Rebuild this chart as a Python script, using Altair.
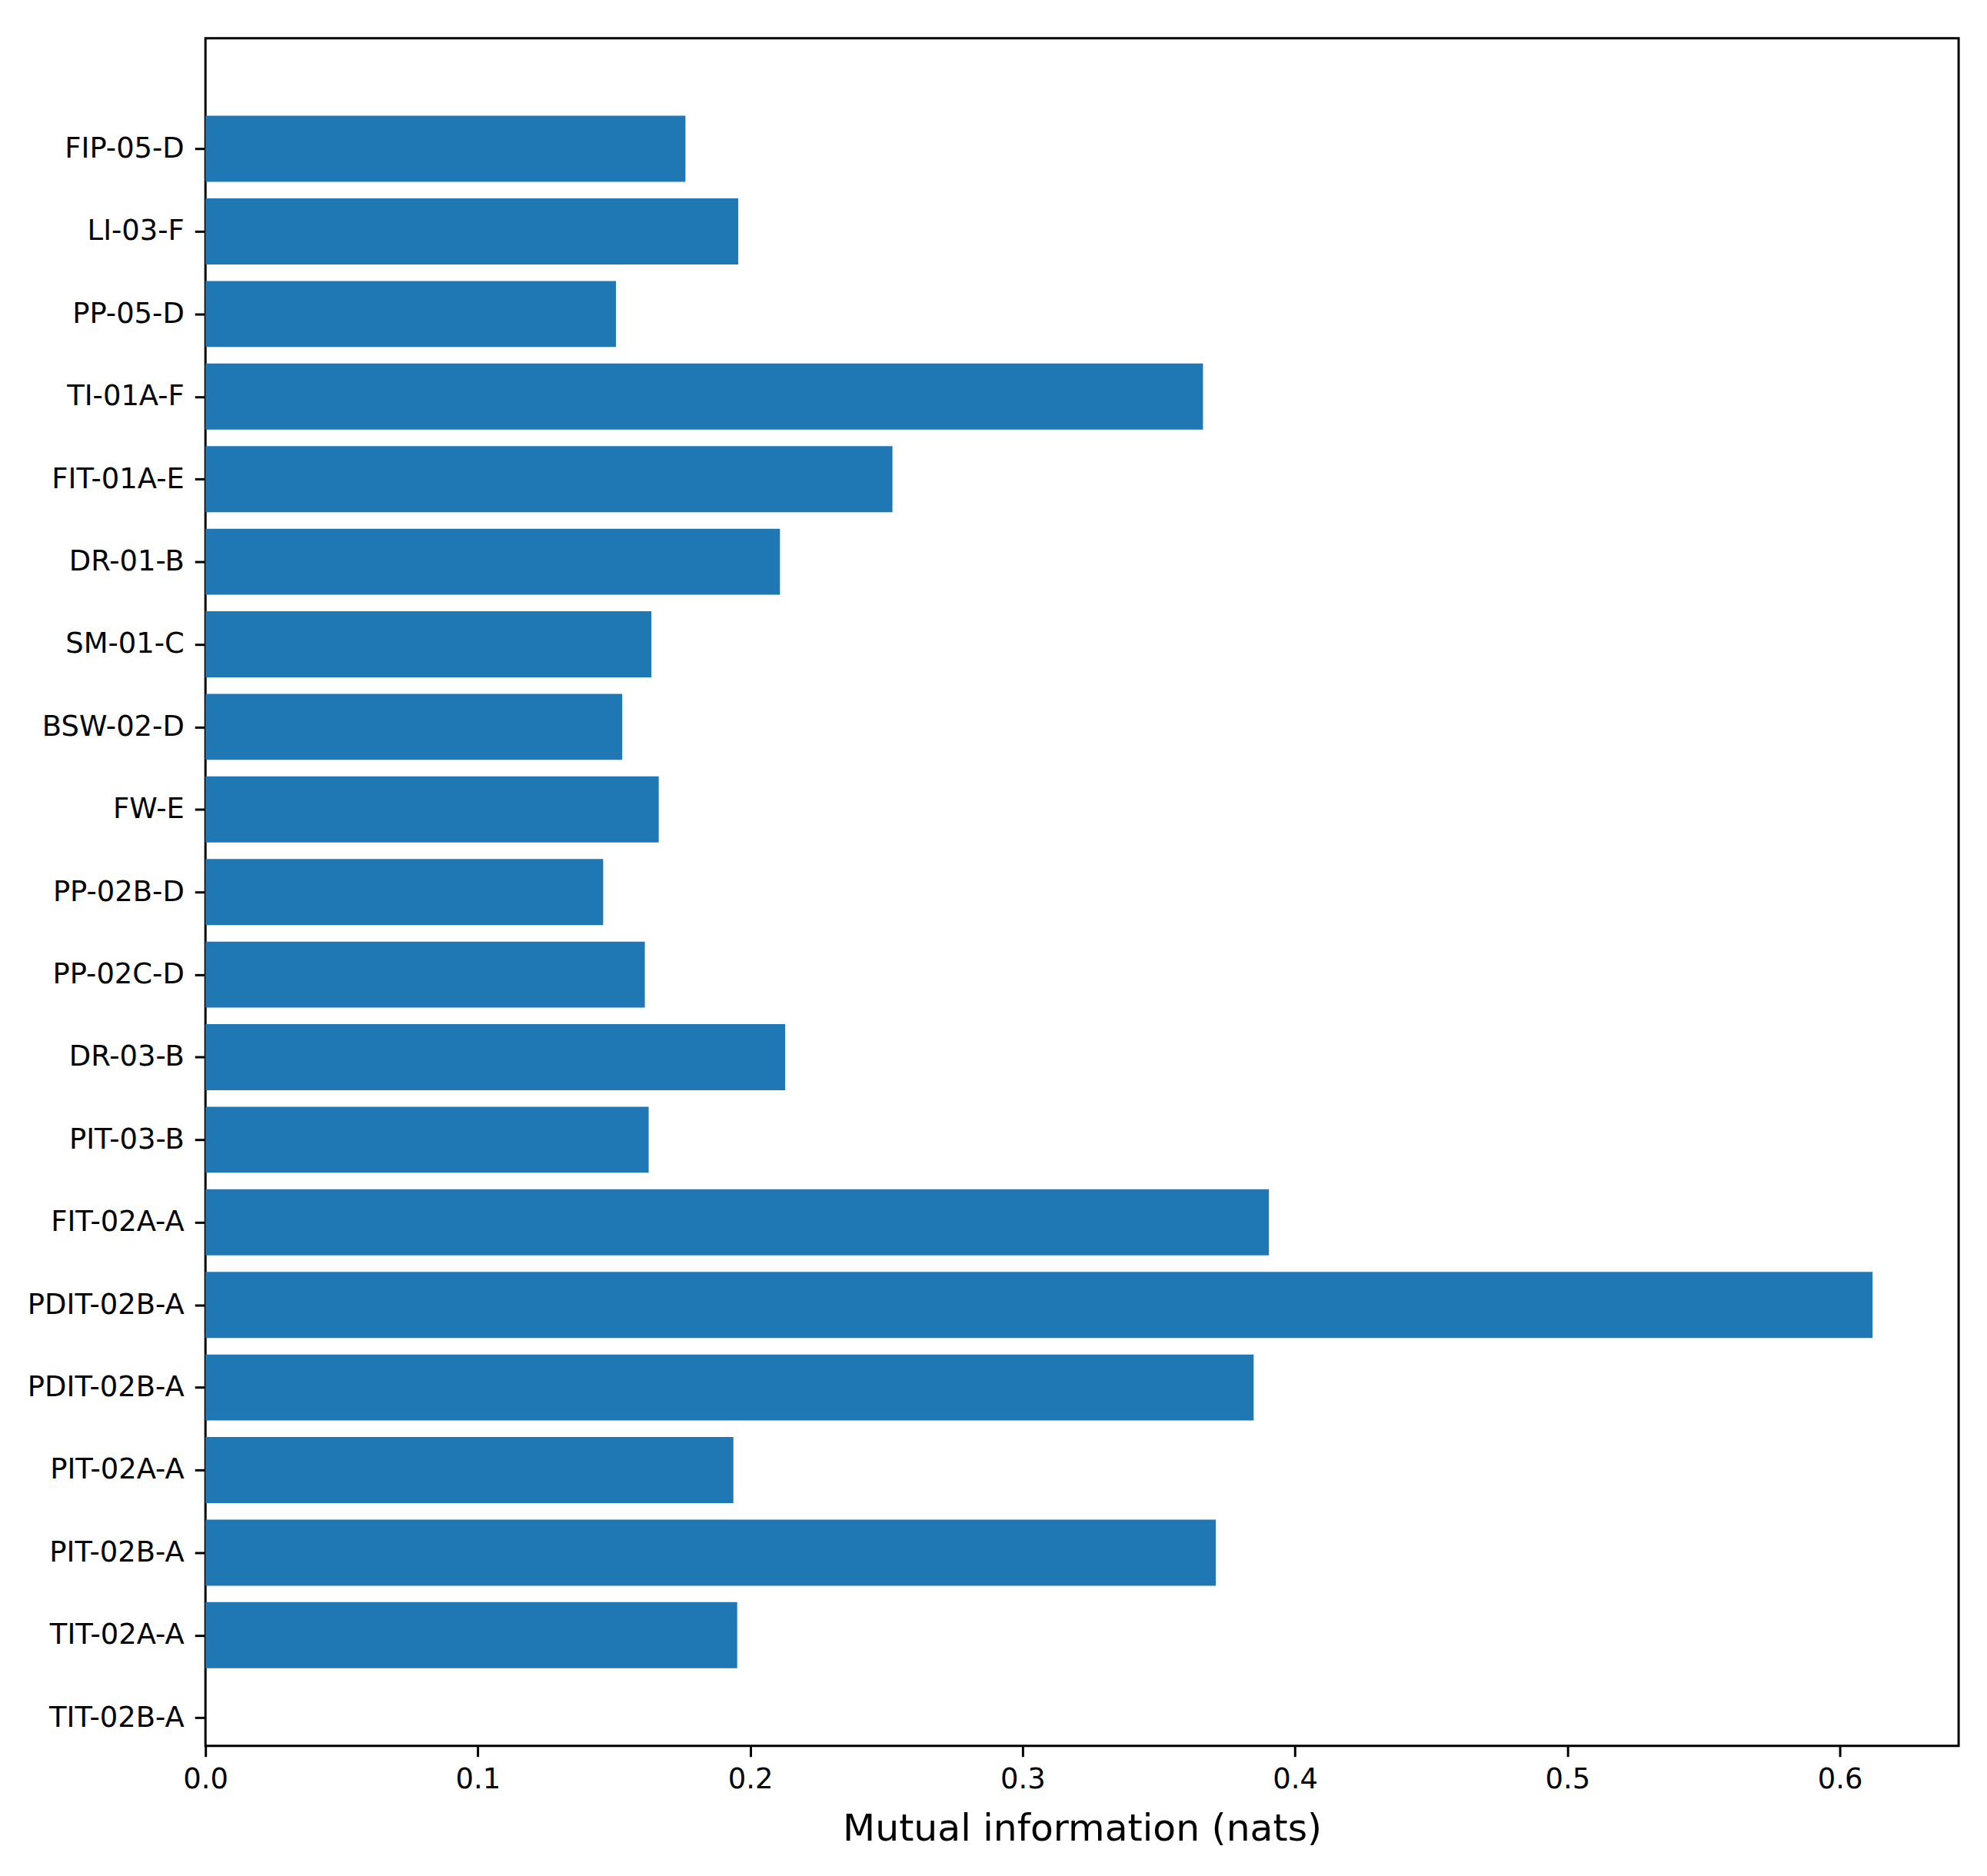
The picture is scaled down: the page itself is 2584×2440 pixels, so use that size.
import altair as alt
import pandas as pd

# Categories listed bottom to top (as drawn by matplotlib barh)
labels = [
    "TIT-02B-A", "TIT-02A-A", "PIT-02B-A", "PIT-02A-A", "PDIT-02B-A",
    "PDIT-02B-A", "FIT-02A-A", "PIT-03-B", "DR-03-B", "PP-02C-D",
    "PP-02B-D", "FW-E", "BSW-02-D", "SM-01-C", "DR-01-B",
    "FIT-01A-E", "TI-01A-F", "PP-05-D", "LI-03-F", "FIP-05-D",
]
values = [
    None, 0.1952, 0.3709, 0.1938, 0.3848,
    0.6120, 0.3904, 0.1627, 0.2128, 0.1613,
    0.1460, 0.1664, 0.1530, 0.1637, 0.2109,
    0.2522, 0.3662, 0.1507, 0.1956, 0.1762,
]

df = pd.DataFrame({"idx": list(range(len(labels))), "label": labels, "value": values})
df = df.dropna(subset=["value"])

label_js = "[" + ",".join("'" + l + "'" for l in labels) + "]"

font = "DejaVu Sans"

chart = (
    alt.Chart(df)
    .transform_calculate(y0="datum.idx - 0.4", y1="datum.idx + 0.4")
    .mark_bar(color="#1f77b4", cornerRadius=0)
    .encode(
        x=alt.X(
            "value:Q",
            scale=alt.Scale(domain=[0, 0.6436], nice=False, zero=False),
            axis=alt.Axis(
                title="Mutual information (nats)",
                values=[0, 0.1, 0.2, 0.3, 0.4, 0.5, 0.6],
                format=".1f",
                grid=False,
                domain=False,
                tickColor="black",
                tickWidth=3,
                tickSize=14,
                labelFont=font,
                labelFontSize=37,
                labelColor="black",
                labelPadding=12,
                labelFlush=False,
                labelOverlap=False,
                titleFont=font,
                titleFontSize=49,
                titleFontWeight="normal",
                titleColor="black",
                titlePadding=22,
            ),
        ),
        x2=alt.value(0),
        y=alt.Y(
            "y0:Q",
            scale=alt.Scale(domain=[-0.34, 20.34], nice=False, zero=False),
            axis=alt.Axis(
                title=None,
                values=list(range(len(labels))),
                labelExpr=label_js + "[datum.value]",
                grid=False,
                domain=False,
                tickColor="black",
                tickWidth=3,
                tickSize=14,
                labelFont=font,
                labelFontSize=37,
                labelColor="black",
                labelPadding=14,
                labelLimit=0,
                labelFlush=False,
                labelOverlap=False,
            ),
        ),
        y2="y1:Q",
    )
    .properties(
        width=2287,
        height=2228,
        autosize=alt.AutoSizeParams(type="none"),
        padding={"left": 260, "top": 38, "right": 29, "bottom": 166},
        background="white",
    )
    .configure_view(stroke="black", strokeWidth=3)
)

chart.save("out.html", embed_options={"renderer": "svg", "actions": False})
